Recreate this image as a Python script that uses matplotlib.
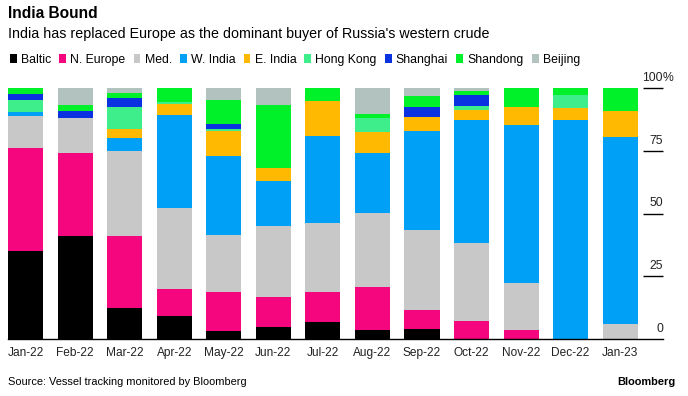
import numpy as np
import matplotlib
matplotlib.use("Agg")
import matplotlib.pyplot as plt
from matplotlib.patches import Patch

months = ["Jan-22", "Feb-22", "Mar-22", "Apr-22", "May-22", "Jun-22", "Jul-22",
          "Aug-22", "Sep-22", "Oct-22", "Nov-22", "Dec-22", "Jan-23"]

# share of Russia's western crude by destination, % (stacked bottom -> top)
baltic = [35.2, 41.1, 12.4, 9.2, 3.2, 4.9, 6.6, 3.6, 3.9, 0, 0, 0, 0]
n_europe = [40.8, 33.2, 28.7, 10.8, 15.7, 11.8, 12.2, 17.2, 7.7, 7.3, 3.6, 0, 0]
med = [12.9, 13.6, 33.9, 32.3, 22.6, 28.3, 27.5, 29.3, 31.9, 30.9, 18.6, 0, 5.9]
w_india = [1.6, 0, 5.2, 36.8, 31.3, 18.1, 34.6, 23.9, 39.2, 48.9, 63.2, 87.1, 74.5]
e_india = [0, 0, 3.6, 4.7, 10.0, 5.1, 14.1, 8.6, 5.7, 4.0, 7.0, 4.9, 10.6]
hong_kong = [4.8, 0, 8.6, 0.8, 1.0, 0, 0, 5.5, 0, 1.6, 0, 5.3, 0]
shanghai = [2.4, 3.1, 3.7, 0, 2.0, 0, 0, 0, 4.0, 4.5, 0, 0, 0]
shandong = [2.3, 2.1, 1.9, 5.4, 9.4, 24.9, 4.9, 1.7, 4.3, 1.7, 7.6, 2.7, 9.0]
beijing = [0, 6.9, 2.0, 0, 4.7, 6.9, 0, 10.2, 3.3, 1.1, 0, 0, 0]

series_names = ["Baltic", "N. Europe", "Med.", "W. India", "E. India",
                "Hong Kong", "Shanghai", "Shandong", "Beijing"]
series_vals = [baltic, n_europe, med, w_india, e_india,
               hong_kong, shanghai, shandong, beijing]
colors = ["#000000", "#F5067E", "#C8C8C8", "#00A0F6", "#FFB901",
          "#3DEE8A", "#0A32E0", "#00F02A", "#B2C2BE"]

y_ticks = [0, 25, 50, 75, 100]

plt.rcParams["font.family"] = ["Liberation Sans", "DejaVu Sans"]

W, H = 688, 396
fig = plt.figure(figsize=(W / 100, H / 100), dpi=100)
fig.patch.set_facecolor("white")

# axes placed in pixel terms: baseline at y=339, 100% at y=88, x from 8 to 663
ax = fig.add_axes([8 / W, (H - 339) / H, (663 - 8) / W, (339 - 88) / H])
x = np.arange(len(months))
bottom = np.zeros(len(months))
for name, vals, c in zip(series_names, series_vals, colors):
    v = np.array(vals, dtype=float)
    ax.bar(x, v, bottom=bottom, width=0.707, color=c, linewidth=0, label=name)
    bottom += v

xr = 12.866
ax.set_xlim(-0.359, xr)
ax.set_ylim(0, 100)
for s in ["top", "right", "left"]:
    ax.spines[s].set_visible(False)
ax.spines["bottom"].set_color("#000000")
ax.spines["bottom"].set_linewidth(1.0)
ax.set_yticks([])
ax.set_xticks(x)
ax.set_xticklabels(months, fontsize=8.6, color="#222222")
ax.tick_params(axis="x", length=0, pad=6)

# right-side value scale
ax.hlines(y_ticks[1:], 12.462, xr, color="#000000", linewidth=1.0, clip_on=False)
for t in y_ticks:
    ax.annotate(str(t), (xr, t), xytext=(0, 3), textcoords="offset points",
                ha="right", va="bottom", fontsize=8.8, color="#222222",
                annotation_clip=False)
ax.annotate("%", (xr, 100), xytext=(0, 3), textcoords="offset points",
            ha="left", va="bottom", fontsize=8.8, color="#222222",
            annotation_clip=False)

fig.text(8 / W, 1 - 14 / H, "India Bound", fontsize=11.2, fontweight="bold",
         va="center", ha="left", color="#000000")
fig.text(8 / W, 1 - 34 / H,
         "India has replaced Europe as the dominant buyer of Russia's western crude",
         fontsize=10.3, va="center", ha="left", color="#000000")

handles = [Patch(facecolor=c, edgecolor="none") for c in colors]
fig.legend(handles, series_names, loc="center left",
           bbox_to_anchor=(10 / W, 1 - 60 / H), ncol=9, frameon=False,
           fontsize=8.8, handlelength=0.57, handleheight=0.7,
           handletextpad=0.33, columnspacing=0.66, borderaxespad=0,
           borderpad=0)

fig.text(8 / W, 1 - 382 / H, "Source: Vessel tracking monitored by Bloomberg",
         fontsize=7.9, va="center", ha="left", color="#000000")
fig.text(676 / W, 1 - 382 / H, "Bloomberg", fontsize=7.9, fontweight="bold",
         va="center", ha="right", color="#000000")

fig.savefig("out.png", dpi=100, facecolor="white")
